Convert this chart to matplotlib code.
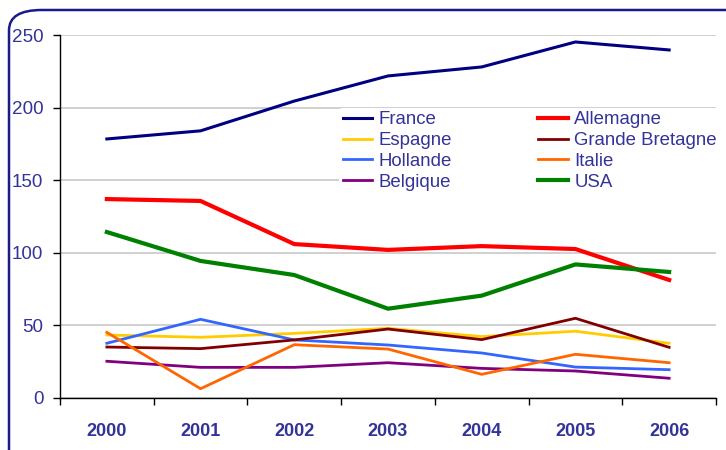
import matplotlib
matplotlib.use('Agg')
import matplotlib.pyplot as plt
from matplotlib.patches import FancyBboxPatch

plt.rcParams['font.family'] = ['Liberation Sans', 'DejaVu Sans']

years = ['2000', '2001', '2002', '2003', '2004', '2005', '2006']

france = [178.4, 184, 204.5, 221.8, 228, 245.2, 239.7]
allemagne = [137, 135.7, 106, 102, 104.6, 102.6, 81.3]
espagne = [43.4, 41.8, 44.5, 48, 42.3, 46, 37.7]
grande_bretagne = [35.1, 34, 40, 47.5, 40.2, 54.9, 34.9]
hollande = [37.7, 54.2, 40, 36.5, 31, 21.3, 19.5]
italie = [45.2, 6.4, 36.7, 33.7, 16.3, 30.1, 24.3]
belgique = [25.3, 21.1, 21.1, 24.3, 20.4, 18.6, 13.6]
usa = [114.3, 94.4, 84.7, 61.5, 70.5, 92, 86.8]

txt = '#333399'

# legend order: row by row, two columns
series = [
    ('France', france, '#000080', 2.2),
    ('Espagne', espagne, '#FFCC00', 2.0),
    ('Hollande', hollande, '#3366FF', 2.0),
    ('Belgique', belgique, '#800080', 2.0),
    ('Allemagne', allemagne, '#FF0000', 3.0),
    ('Grande Bretagne', grande_bretagne, '#800000', 2.0),
    ('Italie', italie, '#FF6600', 2.0),
    ('USA', usa, '#008000', 3.0),
]

fig = plt.figure(figsize=(7.26, 4.5), dpi=100)
ax = fig.add_axes([60/726, 1-398/450, 656/726, 363/450])

x = range(len(years))
for name, vals, col, lw in series:
    ax.plot(x, vals, color=col, lw=lw, label=name, zorder=3)

ax.set_xlim(-0.5, len(years) - 0.5)
ax.set_ylim(0, 250)
ax.set_yticks([0, 50, 100, 150, 200, 250])
ax.yaxis.grid(True, color='#C8C8C8', lw=1.2)
ax.set_axisbelow(True)

ax.set_xticks(list(x))
ax.set_xticklabels(years, fontsize=13, fontweight='bold', color=txt)
ax.set_xticks([i - 0.5 for i in range(len(years) + 1)], minor=True)
ax.tick_params(axis='x', which='major', length=0, pad=18)
ax.tick_params(axis='x', which='minor', length=5, width=1, color='black')
ax.tick_params(axis='y', length=5, width=1, color='black', labelsize=13.6,
               labelcolor=txt, pad=7)

for s in ['top', 'right']:
    ax.spines[s].set_visible(False)
for s in ['left', 'bottom']:
    ax.spines[s].set_color('black')
    ax.spines[s].set_linewidth(1)

leg = ax.legend(ncol=2, loc='upper left', bbox_to_anchor=(0.425, 0.80),
                fontsize=13.4, frameon=True, edgecolor='none', facecolor='white',
                framealpha=1, handlelength=1.6, handletextpad=0.35,
                columnspacing=4.6, labelspacing=0.2, borderpad=0.2,
                borderaxespad=0)
for t in leg.get_texts():
    t.set_color(txt)
leg.set_zorder(2)

frame = FancyBboxPatch((9/726, -0.2), 1.2, 1 - 10/450 + 0.2,
                       boxstyle='round,pad=0,rounding_size=0.045',
                       transform=fig.transFigure, fill=False,
                       edgecolor='#1A1A8A', lw=1.8, clip_on=False)
fig.patches.append(frame)

fig.savefig('out.png', dpi=100)
